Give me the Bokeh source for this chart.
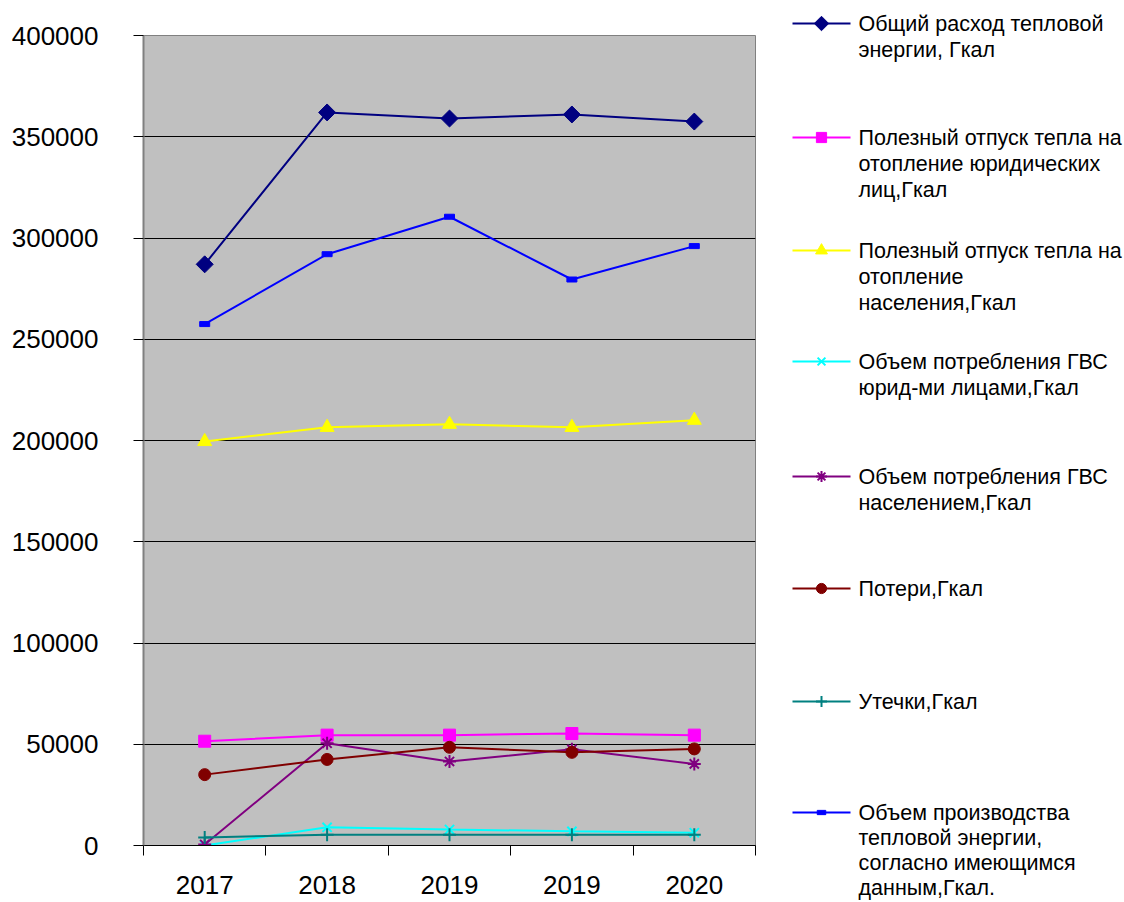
import math
from bokeh.plotting import figure
from bokeh.models import Range1d, FixedTicker, NumeralTickFormatter
from bokeh.layouts import row
from bokeh.core.properties import value
from bokeh.embed import file_html
from bokeh.resources import INLINE

# ---- data ----
years = ["2017", "2018", "2019", "2019", "2020"]
total_heat = [287000, 362000, 359000, 361000, 357500]
legal_heating = [51500, 54500, 54500, 55300, 54500]
population_heating = [199500, 206500, 208000, 206500, 210000]
hw_legal = [0, 9000, 7900, 7000, 6300]
hw_population = [500, 50500, 41500, 47500, 40300]
losses = [35000, 42500, 48500, 46000, 47700]
leaks = [4000, 5300, 5300, 5300, 5300]
production = [257500, 292000, 310500, 279500, 296000]

labels = [
    "Общий расход тепловой\nэнергии, Гкал",
    "Полезный отпуск тепла на\nотопление юридических\nлиц,Гкал",
    "Полезный отпуск тепла на\nотопление\nнаселения,Гкал",
    "Объем потребления ГВС\nюрид-ми лицами,Гкал",
    "Объем потребления ГВС\nнаселением,Гкал",
    "Потери,Гкал",
    "Утечки,Гкал",
    "Объем производства\nтепловой энергии,\nсогласно имеющимся\nданным,Гкал.",
]

FONT = "Liberation Sans"

series = [
    (total_heat, "#000080", "diamond", 12),
    (legal_heating, "#FF00FF", "square", 12),
    (population_heating, "#FFFF00", "triangle", 14),
    (hw_legal, "#00FFFF", "x", 13),
    (hw_population, "#800080", "asterisk", 13),
    (losses, "#800000", "circle", 12),
    (leaks, "#008080", "cross", 13),
    (production, "#0000FF", "rect", 0),
]

xs = [i + 0.5 for i in range(len(years))]

p = figure(width=768, height=902, x_range=Range1d(0, len(years)),
           y_range=Range1d(0, 400000), output_backend="svg",
           toolbar_location=None, min_border_left=143, min_border_right=13,
           min_border_top=35, min_border_bottom=57)
p.frame_align = False
p.background_fill_color = "#C0C0C0"
p.border_fill_color = "white"
p.outline_line_color = "#808080"
p.outline_line_width = 1

yt = FixedTicker(ticks=list(range(0, 400001, 50000)))
p.yaxis.ticker = yt
p.ygrid.ticker = yt
p.ygrid.grid_line_color = "black"
p.ygrid.grid_line_width = 1
p.xgrid.visible = False
p.yaxis.formatter = NumeralTickFormatter(format="0")
p.yaxis.major_tick_out = 10
p.yaxis.major_tick_in = 0
p.yaxis.minor_tick_out = 0
p.yaxis.minor_tick_in = 0
p.yaxis.major_label_standoff = 35
p.yaxis.axis_line_color = "#808080"
p.yaxis.axis_line_width = 2

p.xaxis.ticker = FixedTicker(ticks=xs, minor_ticks=list(range(0, len(years) + 1)))
p.xaxis.major_label_overrides = {x: y for x, y in zip(xs, years)}
p.xaxis.major_tick_out = 0
p.xaxis.major_tick_in = 0
p.xaxis.minor_tick_out = 10
p.xaxis.minor_tick_in = 0
p.xaxis.major_label_standoff = 20
p.xaxis.axis_line_color = "black"

for ax in (p.xaxis, p.yaxis):
    ax.major_label_text_font = FONT
    ax.major_label_text_font_size = "26px"
    ax.major_label_text_color = "black"
    ax.major_tick_line_color = "black"
    ax.minor_tick_line_color = "black"


def draw_marker(fig, x, y, color, marker, size, scale=1.0):
    if marker == "rect":
        fig.rect(x, y, width=10 * scale, height=5 * scale, width_units="screen",
                 height_units="screen", fill_color=color, line_color=color)
    elif marker == "diamond":
        fig.scatter(x, y, marker="square", angle=math.pi / 4, size=size * scale,
                    fill_color=color, line_color=color)
    elif marker in ("x", "asterisk", "cross"):
        fig.scatter(x, y, marker=marker, size=size * scale, line_color=color,
                    line_width=2)
    else:
        fig.scatter(x, y, marker=marker, size=size * scale, fill_color=color,
                    line_color=color)


for vals, color, marker, size in series:
    p.line(xs, vals, line_color=color, line_width=2)
    draw_marker(p, xs, vals, color, marker, size)

# ---- legend panel ----
LW, LH = 356, 902
lg = figure(width=LW, height=LH, x_range=Range1d(0, LW), y_range=Range1d(LH, 0),
            output_backend="svg", toolbar_location=None, min_border=0)
lg.frame_align = False
lg.axis.visible = False
lg.grid.visible = False
lg.outline_line_color = None
lg.background_fill_color = "white"
lg.border_fill_color = "white"

item_tops = [23, 137, 250, 361, 476, 588, 701, 812]
for (vals, color, marker, size), lab, ty in zip(series, labels, item_tops):
    lg.line([24, 82], [ty, ty], line_color=color, line_width=2)
    draw_marker(lg, [53], [ty], color, marker, size, scale=0.85)
    parts = lab.split("\n")
    step = 26 if len(parts) < 4 else 25
    lg.text([90] * len(parts), [ty + k * step for k in range(len(parts))],
            text=parts, text_baseline="middle", text_align="left",
            text_font=value(FONT), text_font_size="21.5px", text_color="black")

layout = row(p, lg)
open("out.html", "w").write(file_html(layout, INLINE))
